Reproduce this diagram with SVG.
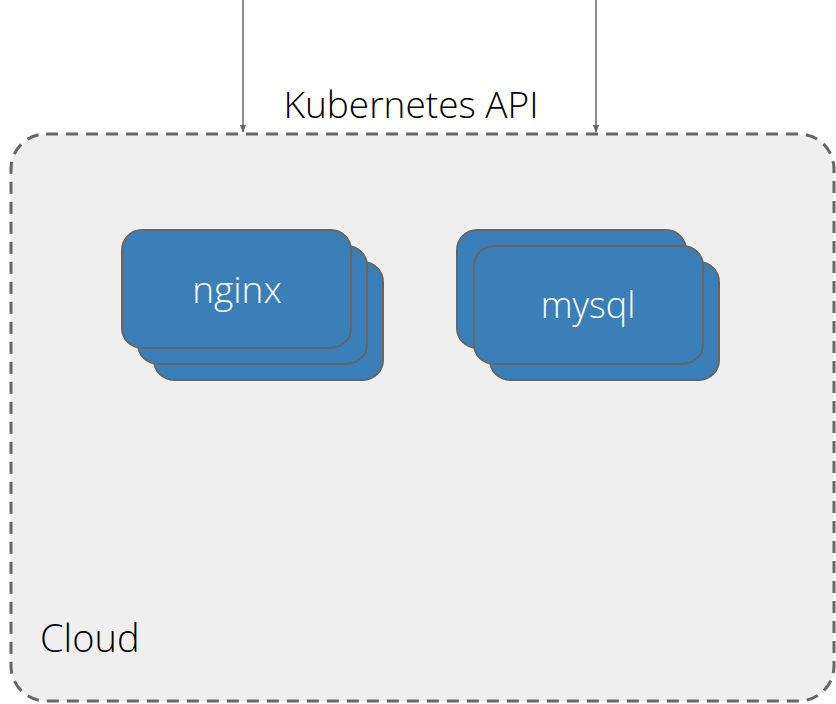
<svg xmlns="http://www.w3.org/2000/svg" width="836" height="704" viewBox="0 0 836 704">
<style>
.t{font-family:"Open Sans","Noto Sans",sans-serif;font-weight:300;}
.pod{fill:#3a7fb8;stroke:#666;stroke-width:2;}
.lbl{fill:#fff;text-anchor:middle;}
.arr{stroke:#666;stroke-width:1.5;fill:none;}
</style>
<defs>
<marker id="ah" viewBox="0 0 10 10" refX="9" refY="5" markerWidth="8" markerHeight="8" markerUnits="userSpaceOnUse" orient="auto">
<path d="M0,1 L10,5 L0,9 z" fill="#666"/>
</marker>
</defs>
<g id="cloud">
<rect x="11" y="134" width="823" height="567" rx="35" ry="35" fill="#efefef" stroke="#666" stroke-width="3" stroke-dasharray="12,8"/>
<text class="t" x="40" y="652" font-size="38" fill="#000">Cloud</text>
</g>
<g id="api-label">
<text class="t" x="411" y="118" font-size="37" text-anchor="middle" fill="#000">Kubernetes API</text>
</g>
<g id="nginx">
<rect class="pod" x="154" y="262" width="229" height="118" rx="20"/>
<rect class="pod" x="138" y="246" width="229" height="118" rx="20"/>
<rect class="pod" x="122" y="230" width="229" height="118" rx="20"/>
<text class="t lbl" x="237" y="303" font-size="37">nginx</text>
</g>
<g id="mysql">
<rect class="pod" x="490" y="262" width="229" height="118" rx="20"/>
<rect class="pod" x="457" y="230" width="229" height="118" rx="20"/>
<rect class="pod" x="474" y="246" width="229" height="118" rx="20"/>
<text class="t lbl" x="588" y="318" font-size="36">mysql</text>
</g>
<g id="connectors">
<line class="arr" x1="243" y1="0" x2="243" y2="132" marker-end="url(#ah)"/>
<line class="arr" x1="596" y1="0" x2="596" y2="132" marker-end="url(#ah)"/>
</g>
</svg>
